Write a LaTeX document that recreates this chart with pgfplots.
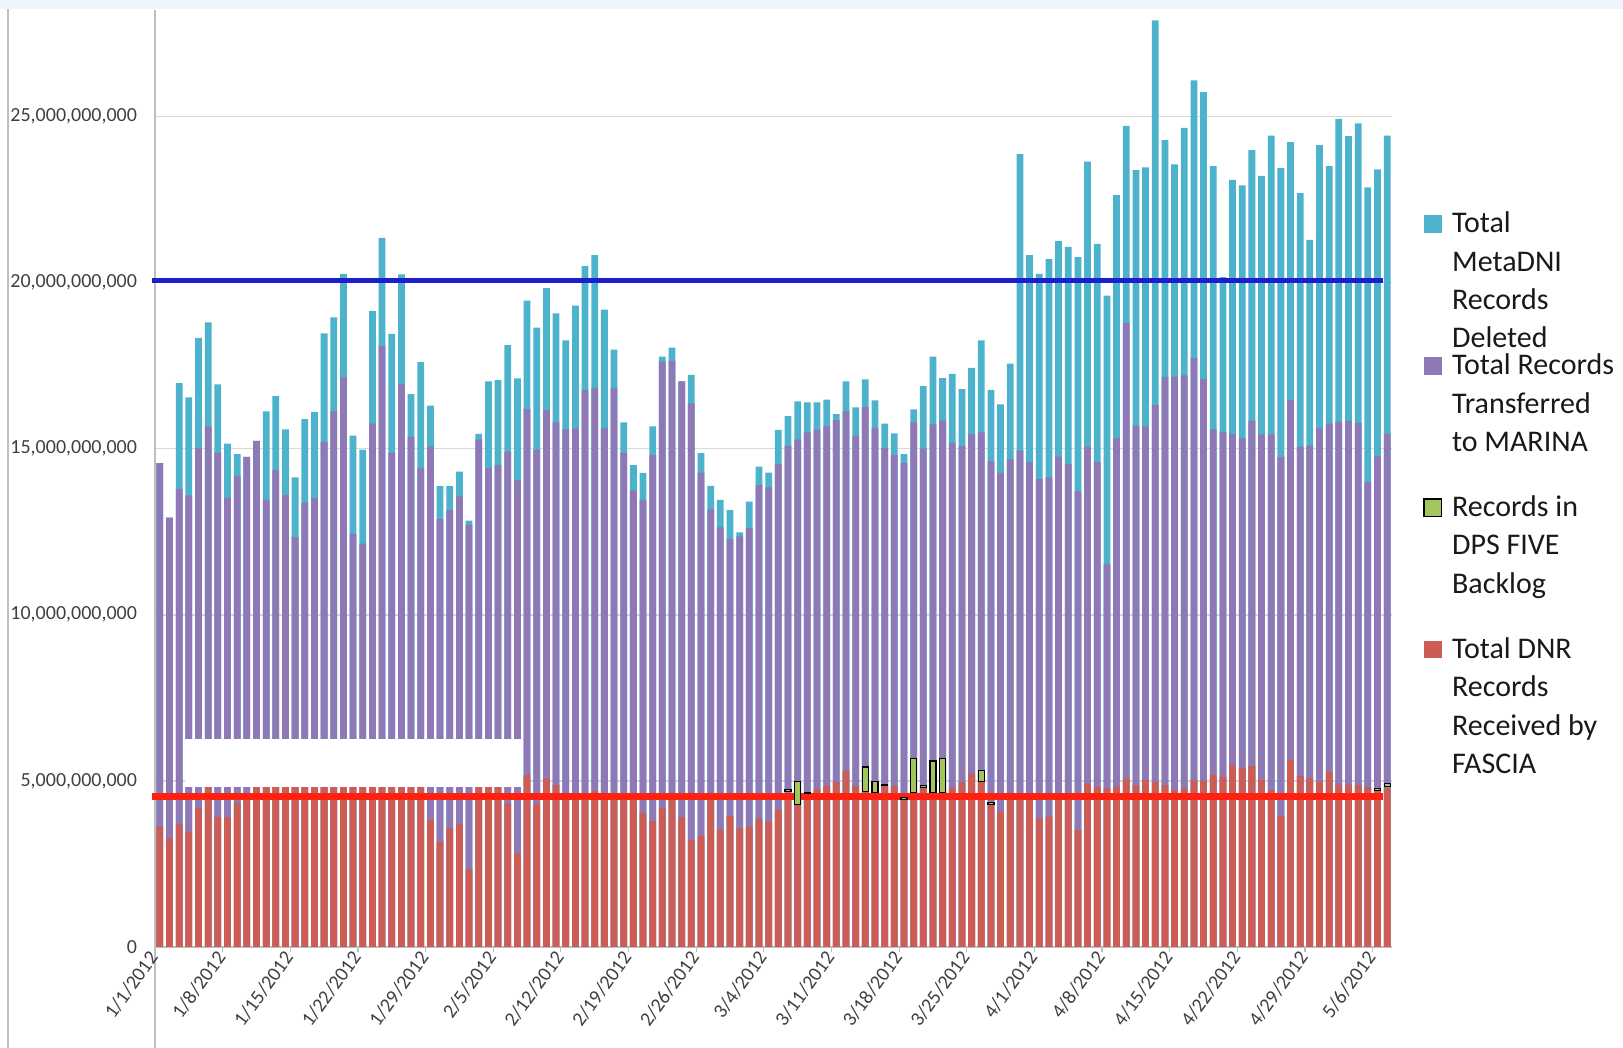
\documentclass[border=0pt]{standalone}
\usepackage{fontspec}
\setmainfont{Carlito}
\usepackage{pgfplots}
\usepackage{pgfplotstable}
\pgfplotsset{compat=1.18}
\definecolor{cDel}{HTML}{4DB2CC}
\definecolor{cTrans}{HTML}{8E78B6}
\definecolor{cDnr}{HTML}{CD5C55}
\definecolor{cBack}{HTML}{A2C65C}
\definecolor{cBlue}{HTML}{1E1ECC}
\definecolor{cRed}{HTML}{FF2211}
\definecolor{cGrid}{HTML}{D9D9D9}
\definecolor{cAxis}{HTML}{BFBFBF}
\definecolor{cText}{HTML}{404040}
\definecolor{cBand}{HTML}{EEF4FA}

% values in billions of records; i = day index from 1/1/2012
\pgfplotstableread{
i del trans dnr
0 14.56 14.56 3.62
1 12.92 12.92 3.27
2 16.97 13.79 3.69
3 16.54 13.59 3.47
4 18.33 15.02 4.19
5 18.80 15.67 4.90
6 16.93 14.88 3.91
7 15.15 13.52 3.89
8 14.83 14.16 4.32
9 14.75 14.75 4.47
10 15.23 15.23 4.90
11 16.12 13.46 4.90
12 16.58 14.36 4.90
13 15.58 13.60 4.90
14 14.13 12.34 4.90
15 15.89 13.37 4.90
16 16.10 13.52 4.90
17 18.47 15.20 4.90
18 18.95 16.13 4.90
19 20.26 17.14 4.90
20 15.39 12.43 4.90
21 14.97 12.14 4.90
22 19.14 15.75 4.90
23 21.34 18.10 4.90
24 18.45 14.87 4.90
25 20.24 16.93 4.90
26 16.64 15.35 4.90
27 17.60 14.42 4.90
28 16.29 15.06 3.82
29 13.87 12.88 3.17
30 13.87 13.15 3.57
31 14.31 13.56 3.69
32 12.83 12.71 2.35
33 15.44 15.27 4.90
34 17.02 14.41 4.90
35 17.06 14.50 4.90
36 18.11 14.91 4.32
37 17.11 14.04 2.82
38 19.45 16.19 5.17
39 18.64 14.97 4.32
40 19.83 16.16 5.07
41 19.07 15.79 4.87
42 18.26 15.58 4.59
43 19.30 15.61 4.57
44 20.49 16.77 4.62
45 20.82 16.81 4.69
46 19.18 15.61 4.57
47 17.98 16.81 4.52
48 15.79 14.87 4.47
49 14.50 13.74 4.42
50 14.27 13.46 4.04
51 15.67 14.80 3.79
52 17.77 17.62 4.19
53 18.04 17.64 4.47
54 17.02 17.02 3.90
55 17.22 16.36 3.22
56 14.86 14.28 3.35
57 13.88 13.17 4.42
58 13.46 12.63 3.54
59 13.15 12.28 3.94
60 12.48 12.36 3.57
61 13.40 12.61 3.62
62 14.46 13.90 3.84
63 14.28 13.83 3.77
64 15.56 14.54 4.12
65 15.98 15.08 4.47
66 16.42 15.27 4.55
67 16.39 15.49 4.60
68 16.39 15.57 4.75
69 16.47 15.67 4.85
70 16.04 15.86 4.97
71 17.02 16.13 5.30
72 16.24 15.39 4.85
73 17.08 16.25 4.70
74 16.45 15.62 4.75
75 15.75 15.02 4.85
76 15.46 14.80 4.85
77 14.83 14.56 4.45
78 16.18 15.79 4.70
79 16.88 15.00 4.80
80 17.77 15.73 4.70
81 17.12 15.84 4.75
82 17.25 15.17 4.80
83 16.79 15.08 4.97
84 17.43 15.43 5.22
85 18.26 15.49 4.97
86 16.77 14.62 4.32
87 16.33 14.27 4.07
88 17.56 14.68 4.47
89 23.86 14.94 4.47
90 20.82 14.60 4.47
91 20.26 14.08 3.87
92 20.70 14.13 3.92
93 21.24 14.76 4.42
94 21.07 14.54 4.42
95 20.76 13.71 3.52
96 23.64 15.06 4.92
97 21.16 14.60 4.82
98 19.60 11.53 4.77
99 22.63 15.31 4.82
100 24.71 18.78 5.07
101 23.38 15.69 4.87
102 23.46 15.67 5.02
103 27.89 16.31 4.97
104 24.28 17.16 4.87
105 23.55 17.16 4.72
106 24.65 17.20 4.77
107 26.08 17.72 5.02
108 25.73 17.10 4.99
109 23.50 15.58 5.19
110 20.16 15.50 5.12
111 23.09 15.44 5.47
112 22.92 15.31 5.39
113 23.98 15.84 5.44
114 23.21 15.43 5.02
115 24.42 15.43 4.72
116 23.44 14.75 3.95
117 24.22 16.45 5.62
118 22.69 15.06 5.15
119 21.28 15.09 5.07
120 24.13 15.61 4.97
121 23.50 15.75 5.27
122 24.92 15.81 4.89
123 24.40 15.83 4.89
124 24.79 15.77 4.87
125 22.86 13.99 4.82
126 23.40 14.77 4.72
127 24.42 15.44 4.77
}\records

% floating backlog bars: base and height (billions)
\pgfplotstableread{
i base h
65 4.68 0.05
66 4.29 0.68
67 4.61 0.05
73 4.67 0.75
74 4.65 0.32
75 4.85 0.05
77 4.45 0.05
78 4.65 1.02
79 4.80 0.05
80 4.65 0.95
81 4.65 1.02
85 4.97 0.35
86 4.30 0.05
126 4.72 0.05
127 4.82 0.10
}\backlog

\begin{document}
\begin{tikzpicture}
\path[use as bounding box] (-77.5pt,-50.5pt) rectangle (734pt,473.5pt);
\fill[cBand] (-77.5pt,469pt) rectangle (734pt,473.5pt);
\draw[cAxis, line width=0.8pt] (-73.4pt,-50.5pt) -- (-73.4pt,469pt);
\draw[cAxis, line width=0.8pt] (0pt,-50.5pt) -- (0pt,0pt);
\begin{axis}[
  at={(0pt,0pt)}, anchor=south west, scale only axis,
  width=618.5pt, height=468.5pt,
  xmin=-0.5, xmax=127.5, ymin=0, ymax=28.2,
  clip=false,
  axis x line*=bottom, axis y line*=left,
  axis line style={cAxis, line width=0.8pt, -},
  xtick={-0.5,6.5,13.5,20.5,27.5,34.5,41.5,48.5,55.5,62.5,69.5,76.5,83.5,90.5,97.5,104.5,111.5,118.5,125.5},
  xticklabels={1/1/2012,1/8/2012,1/15/2012,1/22/2012,1/29/2012,2/5/2012,2/12/2012,2/19/2012,2/26/2012,3/4/2012,3/11/2012,3/18/2012,3/25/2012,4/1/2012,4/8/2012,4/15/2012,4/22/2012,4/29/2012,5/6/2012},
  ytick={0,5,10,15,20,25},
  yticklabels={0,{5,000,000,000},{10,000,000,000},{15,000,000,000},{20,000,000,000},{25,000,000,000}},
  ymajorgrids, grid style={cGrid, line width=0.8pt},
  major tick length=2.5pt, tick align=outside,
  ytick style={draw=none},
  xtick style={cAxis, line width=0.6pt},
  tick label style={font=\fontsize{10}{12}\selectfont, text=cText},
  x tick label style={rotate=54, anchor=east, inner sep=1pt},
  y tick label style={anchor=east, xshift=-3pt},
  legend style={at={(axis description cs:1.025,0.789)}, anchor=north west,
    draw=none, fill=none, inner sep=0pt, column sep=3pt, row sep=55pt,
    font=\fontsize{15}{19.15}\selectfont, text=black!90,
    cells={anchor=base west, inner sep=0pt}},
]
\addplot[ybar, bar width=0.7, bar shift=0pt, fill=cDel, draw=none, mark=none,
  legend image code/.code={\fill[cDel] (0pt,0pt) rectangle (8.8pt,8.8pt);}]
  table[x=i, y=del]{\records};
\addlegendentry{\parbox[t]{110pt}{Total\\MetaDNI\\Records\\Deleted}}
\addplot[ybar, bar width=0.7, bar shift=0pt, fill=cTrans, draw=none, mark=none,
  legend image code/.code={\fill[cTrans] (0pt,0pt) rectangle (8.8pt,8.8pt);}]
  table[x=i, y=trans]{\records};
\addlegendentry{\parbox[t]{110pt}{Total Records\\Transferred\\to MARINA}}
\addlegendimage{legend image code/.code={\filldraw[fill=cBack, draw=black, line width=0.6pt] (0pt,0pt) rectangle (8.8pt,8.8pt);}}
\addlegendentry{\parbox[t]{110pt}{Records in\\DPS FIVE\\Backlog}}
\addplot[ybar, bar width=0.7, bar shift=0pt, fill=cDnr, draw=none, mark=none,
  legend image code/.code={\fill[cDnr] (0pt,0pt) rectangle (8.8pt,8.8pt);}]
  table[x=i, y=dnr]{\records};
\addlegendentry{\parbox[t]{110pt}{Total DNR\\Records\\Received by\\FASCIA}}
\addplot[draw=none, fill=white, mark=none, forget plot]
  coordinates {(2.6,4.82) (37.62,4.82) (37.62,6.25) (2.6,6.25)};
\addplot[cBlue, line width=2.7pt, mark=none, forget plot]
  coordinates {(-0.8,20.05) (126.6,20.05)};
\addplot[cRed, line width=3.8pt, mark=none, forget plot]
  coordinates {(-0.8,4.53) (126.6,4.53)};
\end{axis}
\begin{axis}[
  at={(0pt,0pt)}, anchor=south west, scale only axis,
  width=618.5pt, height=468.5pt,
  xmin=-0.5, xmax=127.5, ymin=0, ymax=28.2,
  hide axis, ybar stacked, bar width=0.62,
]
\addplot[draw=none, fill=none, mark=none, bar shift=0pt] table[x=i, y=base]{\backlog};
\addplot[fill=cBack, draw=black, line width=0.6pt, mark=none, bar shift=0pt] table[x=i, y=h]{\backlog};
\end{axis}
\end{tikzpicture}
\end{document}
